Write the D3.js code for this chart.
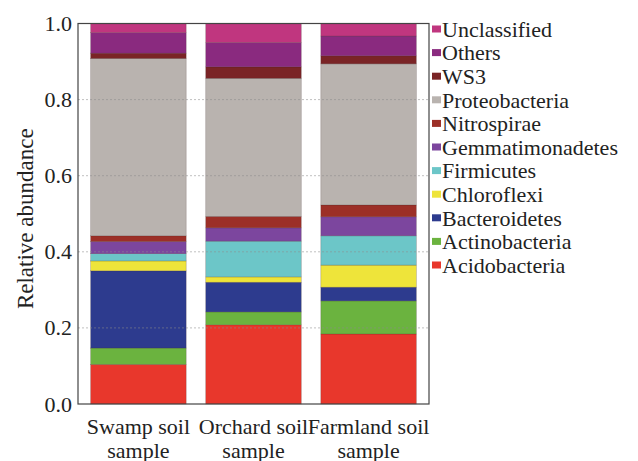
<!DOCTYPE html>
<html>
<head>
<meta charset="utf-8">
<script src="https://cdn.jsdelivr.net/npm/d3@7"></script>
</head>
<body style="margin:0;background:#fff">
<svg id="chart" width="638" height="461" style="display:block"></svg>
<script>
// ---- data ----
const samples = ["Swamp soil sample", "Orchard soil sample", "Farmland soil sample"];
const sampleLines = [["Swamp soil", "sample"], ["Orchard soil", "sample"], ["Farmland soil", "sample"]];
// stacking order bottom -> top
const phyla = ["Acidobacteria", "Actinobacteria", "Bacteroidetes", "Chloroflexi", "Firmicutes",
               "Gemmatimonadetes", "Nitrospirae", "Proteobacteria", "WS3", "Others", "Unclassified"];
const acidobacteria    = [0.104, 0.208, 0.184];
const actinobacteria   = [0.043, 0.034, 0.087];
const bacteroidetes    = [0.203, 0.078, 0.036];
const chloroflexi      = [0.026, 0.014, 0.058];
const firmicutes       = [0.019, 0.094, 0.077];
const gemmatimonadetes = [0.032, 0.035, 0.050];
const nitrospirae      = [0.015, 0.030, 0.031];
const proteobacteria   = [0.466, 0.363, 0.371];
const ws3              = [0.014, 0.030, 0.021];
const others           = [0.054, 0.064, 0.052];
const unclassified     = [0.024, 0.050, 0.033];
const yTicks = [0, 0.2, 0.4, 0.6, 0.8, 1.0];
const colors = ["#e8372c", "#6bb33f", "#2d3b8e", "#eee43a", "#6cc6c8",
                "#7c469e", "#9c2f27", "#b9b3af", "#7a2426", "#8a2a7f", "#c0367f"];

const FONTS = ["Liberation Serif", "Tinos", "Times New Roman", "Nimbus Roman", "DejaVu Serif"];
const fontStack = () => FONTS.map(f => `"${f}"`).join(", ");
const TEXT = "#222";

const seriesValues = [acidobacteria, actinobacteria, bacteroidetes, chloroflexi, firmicutes,
  gemmatimonadetes, nitrospirae, proteobacteria, ws3, others, unclassified];
const table = samples.map((s, i) => {
  const row = { sample: s };
  phyla.forEach((p, j) => row[p] = seriesValues[j][i]);
  return row;
});

// ---- layout ----
const svg = d3.select("#chart");
const mLeft = 78, mRight = 429, mTop = 23.5, mBottom = 404;

const x = d3.scaleBand().domain(samples).range([mLeft, mRight]).paddingInner(0.17).paddingOuter(0.11);
const y = d3.scaleLinear().domain([0, 1]).range([mBottom, mTop]);
const color = d3.scaleOrdinal().domain(phyla).range(colors);

const stacked = d3.stack().keys(phyla)(table);

svg.append("g").selectAll("g")
  .data(stacked).join("g")
  .attr("fill", d => color(d.key))
  .selectAll("rect")
  .data(d => d).join("rect")
  .attr("x", d => x(d.data.sample))
  .attr("width", x.bandwidth())
  .attr("y", d => y(d[1]))
  .attr("height", d => y(d[0]) - y(d[1]))
  .attr("stroke", "rgba(60,40,40,0.35)")
  .attr("stroke-width", 0.6);

// gridlines
svg.append("g").selectAll("line")
  .data(yTicks.filter(t => t > 0 && t < 1)).join("line")
  .attr("x1", mLeft).attr("x2", mRight)
  .attr("y1", d => y(d)).attr("y2", d => y(d))
  .attr("stroke", "#8c8c8c").attr("stroke-opacity", 0.55)
  .attr("stroke-width", 1).attr("stroke-dasharray", "2,2");

// frame
svg.append("rect")
  .attr("x", mLeft).attr("y", mTop)
  .attr("width", mRight - mLeft).attr("height", mBottom - mTop)
  .attr("fill", "none").attr("stroke", "#444").attr("stroke-width", 1.2);

// y axis
const yAxis = d3.axisLeft(y).tickValues(yTicks).tickFormat(d3.format(".1f")).tickSize(0).tickPadding(6);
const ga = svg.append("g").attr("transform", `translate(${mLeft},0)`).call(yAxis);
ga.attr("font-family", null).attr("font-size", null);
ga.select(".domain").remove();
ga.selectAll("text")
  .style("font-family", fontStack).style("font-size", "22px").attr("fill", TEXT);

// y title
svg.append("text")
  .attr("transform", `translate(33,${(mTop + mBottom) / 2 + 5}) rotate(-90)`)
  .attr("text-anchor", "middle")
  .style("font-family", fontStack).style("font-size", "23px").attr("fill", TEXT)
  .text("Relative abundance");

// x labels
const xl = svg.append("g").selectAll("text")
  .data(samples).join("text")
  .attr("text-anchor", "middle")
  .attr("x", d => x(d) + x.bandwidth() / 2)
  .attr("y", 434)
  .style("font-family", fontStack).style("font-size", "22px").attr("fill", TEXT);
xl.selectAll("tspan")
  .data((d, i) => sampleLines[i]).join("tspan")
  .attr("x", function () { return d3.select(this.parentNode).attr("x"); })
  .attr("dy", (d, i) => i === 0 ? 0 : 24)
  .text(d => d);

// legend (top to bottom: reverse of stacking)
const legendItems = phyla.slice().reverse();
const lg = svg.append("g").selectAll("g")
  .data(legendItems).join("g")
  .attr("transform", (d, i) => `translate(432,${29 + i * 23.6})`);
lg.append("rect")
  .attr("x", 0).attr("y", -3.5).attr("width", 9).attr("height", 7)
  .attr("fill", d => color(d));
lg.append("text")
  .attr("x", 10).attr("y", 0).attr("dy", "0.35em")
  .style("font-family", fontStack).style("font-size", "22px").attr("fill", TEXT)
  .text(d => d);
</script>
</body>
</html>
